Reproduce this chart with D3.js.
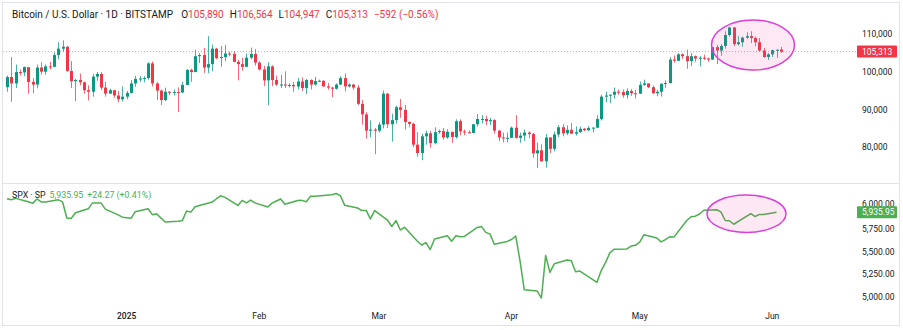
<!DOCTYPE html>
<html>
<head>
<meta charset="utf-8">
<script src="https://cdn.jsdelivr.net/npm/d3@7/dist/d3.min.js"></script>
<style>
  html, body { margin: 0; padding: 0; background: #fff; }
  svg { display: block; font-family: Roboto, "Noto Sans", sans-serif; }
</style>
</head>
<body>
<svg id="chart" width="903" height="330"></svg>
<script>
// BTC/USD daily candles (Bitstamp), 2024-12-04 .. 2025-06-03
const btcStart = "2024-12-04";
const btcOpen = [
  95900, 98600, 96900, 99900, 99800, 101200, 97300, 96600, 101100, 100000, 101400, 101300, 104400, 106100,
  106600, 100200, 97500, 97800, 97200, 95100, 94700, 98700, 99400, 95800, 94200, 95100, 93700, 92700,
  93400, 94400, 96900, 98100, 98200, 98300, 102200, 96900, 95000, 92500, 94700, 94500, 94600, 94500,
  96500, 100500, 99900, 104100, 104400, 101100, 102000, 106100, 103600, 103900, 104800, 104700, 102600, 102000,
  101300, 103700, 104700,
  102400, 100600, 97700, 101400, 97800, 96600, 96600, 96500, 96500, 96100, 97400, 95700, 97800, 96600,
  97500, 97600, 96100, 95800, 95500, 96600, 98300, 96100, 96600, 95800, 91500, 88700, 84400, 84700,
  84400, 86000, 94200, 86100, 87200, 90600, 89900, 86700, 86200, 80700, 78500, 82900, 83700, 81100,
  84000, 84300, 82600, 84100, 82700, 86900, 84200, 84000, 83800, 86100, 87500, 87500, 86900, 87200,
  84400, 82600, 82400,
  82500, 85200, 82500, 83100, 83900, 83500, 78400, 79200, 76300, 82600, 79600, 83400, 85300, 83700,
  84600, 83600, 84000, 84900, 84500, 85100, 85200, 87500, 93400, 93700, 93900, 94700, 94600, 93800,
  94900, 94300,
  94200, 96500, 96900, 95900, 94300, 94700, 96800, 97000, 103200, 102900, 104600, 104100, 102800, 104100,
  103500, 103700, 103500, 103200, 106500, 105600, 106800, 109700, 111700, 107300, 107800, 109000, 109400, 108900,
  107800, 105600, 103900,
  104600, 105700, 105890
];
const btcHigh = [
  99000, 103900, 101900, 100600, 101400, 101200, 98300, 101900, 102500, 101900, 102600, 105100, 107800, 108300,
  106800, 102800, 98100, 99500, 97400, 96400, 99400, 99900, 99900, 97300, 95500, 95200, 94900, 96100,
  94900, 97800, 98900, 98800, 98800, 102500, 102700, 97200, 95300, 95800, 94900, 95300, 95800, 97300,
  100600, 100800, 105800, 104900, 106300, 109400, 107200, 106300, 106800, 107100, 105300, 105400, 103200, 103700,
  104800, 106400, 106000,
  102800, 101500, 102500, 101700, 99000, 99200, 100100, 96900, 97300, 98300, 98500, 98100, 98000, 98600,
  97900, 97700, 97000, 96000, 96900, 98800, 99500, 96900, 96700, 96500, 92500, 89300, 87100, 85100,
  86600, 95000, 94400, 88900, 91000, 92800, 91200, 86800, 86500, 84000, 83600, 84400, 84300, 85300,
  84700, 85100, 84800, 84100, 87400, 87400, 84700, 84500, 86200, 88800, 88500, 88300, 87800, 87500,
  84600, 83900, 83900,
  85500, 88500, 83900, 84700, 84200, 83800, 81200, 80800, 83500, 82700, 84200, 85900, 86100, 85800,
  86400, 85500, 85500, 85100, 85600, 85300, 88500, 93900, 94700, 94000, 95800, 95300, 95300, 95600,
  95400, 95200,
  97400, 97900, 96900, 96300, 95200, 96900, 97700, 103900, 104300, 104900, 104900, 105800, 104900, 104300,
  104100, 104500, 103700, 106600, 107100, 107300, 110700, 111900, 111800, 109500, 109300, 110400, 110700, 109300,
  108900, 106300, 104900,
  105800, 105900, 106564
];
const btcLow = [
  94700, 92000, 95700, 99000, 98800, 94200, 94300, 95600, 99300, 99200, 100600, 101200, 103300, 105300,
  100000, 95700, 92200, 96400, 94200, 92400, 93400, 97600, 95100, 93400, 94100, 93100, 91900, 92100,
  92700, 94200, 96000, 97300, 97200, 97900, 96100, 92500, 91200, 92200, 93800, 93700, 89300, 94300,
  96500, 97300, 99900, 102300, 99700, 99600, 100100, 103300, 101300, 102800, 104100, 102500, 97700, 100300,
  101200, 103300, 101600,
  100300, 96200, 91200, 96200, 96200, 95700, 95700, 95800, 94700, 95300, 94900, 94100, 95300, 96300,
  97300, 96100, 95200, 93300, 95300, 96500, 94800, 95800, 95200, 91200, 86000, 82300, 82700, 78200,
  83900, 85000, 85100, 81500, 86300, 87800, 84700, 85300, 80000, 77500, 76600, 80700, 79900, 80800,
  83600, 82000, 82200, 81200, 82300, 83200, 83200, 83700, 83800, 85500, 86300, 85900, 85900, 83600,
  81600, 81300, 81300,
  82400, 82300, 81200, 81700, 82400, 77200, 74500, 76200, 74600, 78500, 78900, 82700, 82900, 83200,
  83600, 83100, 83900, 84300, 84300, 83900, 85100, 87100, 91900, 91700, 92900, 93900, 93100, 92900,
  93600, 92900,
  94100, 96300, 95700, 94200, 93500, 93400, 95800, 96900, 102400, 102800, 103400, 100800, 101500, 102600,
  101400, 103100, 102600, 103100, 102000, 104200, 106100, 109300, 106800, 106900, 106600, 108700, 107600, 106700,
  105400, 103700, 103100,
  103900, 103700, 104947
];
const btcClose = [
  98600, 96900, 99900, 99800, 101200, 97300, 96600, 101100, 100000, 101400, 101300, 104400, 106100, 106600,
  100200, 97500, 97800, 97200, 95100, 94700, 98700, 99400, 95800, 94200, 95100, 93700, 92700, 93400,
  94400, 96900, 98100, 98200, 98300, 102200, 96900, 95000, 92500, 94700, 94500, 94600, 94500, 96500,
  100500, 99900, 104100, 104400, 101100, 102000, 106100, 103600, 103900, 104800, 104700, 102600, 102000, 101300,
  103700, 104700, 102400,
  100600, 97700, 101400, 97800, 96600, 96600, 96500, 96500, 96100, 97400, 95700, 97800, 96600, 97500,
  97600, 96100, 95800, 95500, 96600, 98300, 96100, 96600, 95800, 91500, 88700, 84400, 84700, 84400,
  86000, 94200, 86100, 87200, 90600, 89900, 86700, 86200, 80700, 78500, 82900, 83700, 81100, 84000,
  84300, 82600, 84100, 82700, 86900, 84200, 84000, 83800, 86100, 87500, 87500, 86900, 87200, 84400,
  82600, 82400, 82500,
  85200, 82500, 83100, 83900, 83500, 78400, 79200, 76300, 82600, 79600, 83400, 85300, 83700, 84600,
  83600, 84000, 84900, 84500, 85100, 85200, 87500, 93400, 93700, 93900, 94700, 94600, 93800, 94900,
  94300, 94200,
  96500, 96900, 95900, 94300, 94700, 96800, 97000, 103200, 102900, 104600, 104100, 102800, 104100, 103500,
  103700, 103500, 103200, 106500, 105600, 106800, 109700, 111700, 107300, 107800, 109000, 109400, 108900, 107800,
  105600, 103900, 104600,
  105700, 105800, 105313
];

// S&P 500 daily closes on trading days
const spxDates = [
  "2024-12-04","2024-12-05","2024-12-06","2024-12-09","2024-12-10","2024-12-11","2024-12-12","2024-12-13",
  "2024-12-16","2024-12-17","2024-12-18","2024-12-19","2024-12-20","2024-12-23","2024-12-24","2024-12-26",
  "2024-12-27","2024-12-30","2024-12-31",
  "2025-01-02","2025-01-03","2025-01-06","2025-01-07","2025-01-08","2025-01-10","2025-01-13","2025-01-14",
  "2025-01-15","2025-01-16","2025-01-17","2025-01-21","2025-01-22","2025-01-23","2025-01-24","2025-01-27",
  "2025-01-28","2025-01-29","2025-01-30","2025-01-31",
  "2025-02-03","2025-02-04","2025-02-05","2025-02-06","2025-02-07","2025-02-10","2025-02-11","2025-02-12",
  "2025-02-13","2025-02-14","2025-02-18","2025-02-19","2025-02-20","2025-02-21","2025-02-24","2025-02-25",
  "2025-02-26","2025-02-27","2025-02-28",
  "2025-03-03","2025-03-04","2025-03-05","2025-03-06","2025-03-07","2025-03-10","2025-03-11","2025-03-12",
  "2025-03-13","2025-03-14","2025-03-17","2025-03-18","2025-03-19","2025-03-20","2025-03-21","2025-03-24",
  "2025-03-25","2025-03-26","2025-03-27","2025-03-28","2025-03-31",
  "2025-04-01","2025-04-02","2025-04-03","2025-04-04","2025-04-07","2025-04-08","2025-04-09","2025-04-10",
  "2025-04-11","2025-04-14","2025-04-15","2025-04-16","2025-04-17","2025-04-21","2025-04-22","2025-04-23",
  "2025-04-24","2025-04-25","2025-04-28","2025-04-29","2025-04-30",
  "2025-05-01","2025-05-02","2025-05-05","2025-05-06","2025-05-07","2025-05-08","2025-05-09","2025-05-12",
  "2025-05-13","2025-05-14","2025-05-15","2025-05-16","2025-05-19","2025-05-20","2025-05-21","2025-05-22",
  "2025-05-23","2025-05-27","2025-05-28","2025-05-29","2025-05-30",
  "2025-06-02"
];
const spxClose = [
  6086.49, 6075.11, 6090.27, 6052.85, 6034.91, 6084.19, 6051.25, 6051.09,
  6074.08, 6050.61, 5872.16, 5867.08, 5930.85, 5974.07, 6040.04, 6037.59,
  5970.84, 5906.94, 5881.63,
  5868.55, 5942.47, 5975.38, 5909.03, 5918.25, 5827.04, 5836.22, 5842.91,
  5949.91, 5937.34, 5996.66, 6049.24, 6086.37, 6118.71, 6101.24, 6012.28,
  6067.70, 6039.31, 6071.17, 6040.53,
  5994.57, 6037.88, 6061.48, 6083.57, 6025.99, 6066.44, 6068.50, 6051.97,
  6115.07, 6114.63, 6129.58, 6144.15, 6117.52, 6013.13, 5983.25, 5955.25,
  5956.06, 5861.57, 5954.50,
  5849.72, 5778.15, 5842.63, 5738.52, 5770.20, 5614.56, 5572.07, 5599.30,
  5521.52, 5638.94, 5675.12, 5614.66, 5675.29, 5662.89, 5667.56, 5767.57,
  5776.65, 5712.20, 5693.31, 5580.94, 5611.85,
  5633.07, 5670.97, 5396.52, 5074.08, 5062.25, 4982.77, 5456.90, 5268.05,
  5363.36, 5405.97, 5396.63, 5275.70, 5282.70, 5158.20, 5287.76, 5375.86,
  5484.77, 5525.21, 5528.75, 5560.83, 5569.06,
  5604.14, 5686.67, 5650.38, 5606.91, 5631.28, 5663.94, 5659.91, 5844.19,
  5886.55, 5892.58, 5916.93, 5958.38, 5963.60, 5940.46, 5844.61, 5842.01,
  5802.82, 5921.54, 5888.55, 5912.17, 5911.69,
  5935.95
];

const btcTicks = [80000, 90000, 100000, 110000];
const spxTicks = [5000, 5250, 5500, 5750, 6000];

const btcHeader = { name: "Bitcoin / U.S. Dollar · 1D · BITSTAMP", change: "−592 (−0.56%)" };
const spxHeader = { name: "SPX · SP", last: "5,935.95", change: "+24.27 (+0.41%)" };

const UP = "#089981", DOWN = "#f23645", SPX_GREEN = "#4caf50", TEXT = "#131722", BORDER = "#e0e3eb";

const svg = d3.select("#chart");
const parse = d3.utcParse("%Y-%m-%d");
const start = parse(btcStart);
const btcDates = btcClose.map((_, i) => d3.utcDay.offset(start, i));
const candles = btcDates.map((d, i) => ({ date: d, o: btcOpen[i], h: btcHigh[i], l: btcLow[i], c: btcClose[i] }));
const spx = spxDates.map((d, i) => ({ date: parse(d), v: spxClose[i] }));

// Shared time axis for both panes
const x = d3.scaleUtc()
  .domain([btcDates[0], btcDates[btcDates.length - 1]])
  .range([7, 780.8]);

const yBtc = d3.scaleLinear().domain([80000, 110000]).range([147.3, 33.9]);
const ySpx = d3.scaleLinear().domain([5000, 6000]).range([296.5, 206.5]);

svg.append("rect").attr("width", 903).attr("height", 330).attr("fill", "#fff");

// Outer frame and pane divider
svg.append("rect").attr("x", 2.5).attr("y", 2.5).attr("width", 897).attr("height", 323)
  .attr("fill", "none").attr("stroke", BORDER).attr("stroke-width", 1);
svg.append("line").attr("x1", 3).attr("x2", 900).attr("y1", 183.5).attr("y2", 183.5)
  .attr("stroke", BORDER).attr("stroke-width", 1);

// Last-price dotted line
const last = candles[candles.length - 1];
svg.append("line")
  .attr("x1", 3).attr("x2", 857)
  .attr("y1", yBtc(last.c)).attr("y2", yBtc(last.c))
  .attr("stroke", DOWN).attr("stroke-opacity", 0.55)
  .attr("stroke-dasharray", "1,2");

// Candles
const cg = svg.append("g");
const bodyW = 3;
cg.selectAll("line.wick").data(candles).join("line")
  .attr("class", "wick")
  .attr("x1", d => Math.round(x(d.date)) + 0.5)
  .attr("x2", d => Math.round(x(d.date)) + 0.5)
  .attr("y1", d => yBtc(d.h)).attr("y2", d => yBtc(d.l))
  .attr("stroke", d => d.c >= d.o ? UP : DOWN)
  .attr("stroke-opacity", 0.75)
  .attr("stroke-width", 1);
cg.selectAll("rect.body").data(candles).join("rect")
  .attr("class", "body")
  .attr("x", d => Math.round(x(d.date)) + 0.5 - bodyW / 2)
  .attr("width", bodyW)
  .attr("y", d => yBtc(Math.max(d.o, d.c)))
  .attr("height", d => Math.max(1, Math.abs(yBtc(d.o) - yBtc(d.c))))
  .attr("fill", d => d.c >= d.o ? UP : DOWN);

// SPX line
svg.append("path")
  .datum(spx)
  .attr("fill", "none")
  .attr("stroke", SPX_GREEN)
  .attr("stroke-width", 1.5)
  .attr("stroke-linejoin", "round")
  .attr("d", d3.line().x(d => x(d.date)).y(d => ySpx(d.v)));

// Highlight ellipses
const ellipse = (cx, cy, rx, ry) => svg.append("ellipse")
  .attr("cx", cx).attr("cy", cy).attr("rx", rx).attr("ry", ry)
  .attr("fill", "rgba(236, 64, 160, 0.12)")
  .attr("stroke", "#dd3ddd").attr("stroke-width", 1.5);
ellipse(753, 45, 41.5, 25);
ellipse(746.5, 213.7, 39.5, 18.7);

// Price scales
const fmtBtc = d3.format(",");
const fmtSpx = d3.format(",.2f");
const axisFont = 8.5;
svg.append("g").selectAll("text").data(btcTicks).join("text")
  .attr("x", 862).attr("y", d => yBtc(d) + 3)
  .attr("font-size", axisFont).attr("fill", TEXT)
  .text(d => fmtBtc(d));
// the 6,000.00 tick sits just above the last-value tag, which partly hides it
svg.append("g").selectAll("text").data(spxTicks).join("text")
  .attr("x", 862).attr("y", d => d === 6000 ? ySpx(d) + 0.5 : ySpx(d) + 3)
  .attr("font-size", axisFont).attr("fill", TEXT)
  .text(d => fmtSpx(d));

// Last value tags
const tag = (yv, color, label) => {
  svg.append("rect").attr("x", 857).attr("y", yv - 6).attr("width", 40).attr("height", 12)
    .attr("rx", 1).attr("fill", color);
  svg.append("text").attr("x", 862).attr("y", yv + 3)
    .attr("font-size", axisFont).attr("fill", "#fff").text(label);
};
tag(yBtc(last.c), DOWN, fmtBtc(last.c));
const spxLast = spx[spx.length - 1];
tag(ySpx(spxLast.v), SPX_GREEN, fmtSpx(spxLast.v));

// Time axis
const monthTicks = x.ticks(d3.utcMonth.every(1));
svg.append("g").selectAll("text").data(monthTicks).join("text")
  .attr("x", d => x(d)).attr("y", 319)
  .attr("text-anchor", "middle")
  .attr("font-size", axisFont).attr("fill", TEXT)
  .attr("font-weight", d => d.getUTCMonth() === 0 ? 500 : 400)
  .text(d => d.getUTCMonth() === 0 ? d3.utcFormat("%Y")(d) : d3.utcFormat("%b")(d));

// Pane legends
const h1 = svg.append("text").attr("x", 12).attr("y", 17.5).attr("font-size", 10).attr("fill", TEXT);
h1.append("tspan").text(btcHeader.name);
[["O", last.o], ["H", last.h], ["L", last.l], ["C", last.c]].forEach(([k, v], i) => {
  h1.append("tspan").attr("dx", i === 0 ? 8 : 6).attr("fill", TEXT).text(k);
  h1.append("tspan").attr("fill", DOWN).text(fmtBtc(v));
});
h1.append("tspan").attr("dx", 6).attr("fill", DOWN).text(btcHeader.change);

const h2 = svg.append("text").attr("x", 12).attr("y", 197.8).attr("font-size", 8.8).attr("fill", TEXT);
h2.append("tspan").text(spxHeader.name);
h2.append("tspan").attr("dx", 4).attr("fill", SPX_GREEN).text(spxHeader.last);
h2.append("tspan").attr("dx", 4).attr("fill", SPX_GREEN).text(spxHeader.change);
</script>
</body>
</html>
